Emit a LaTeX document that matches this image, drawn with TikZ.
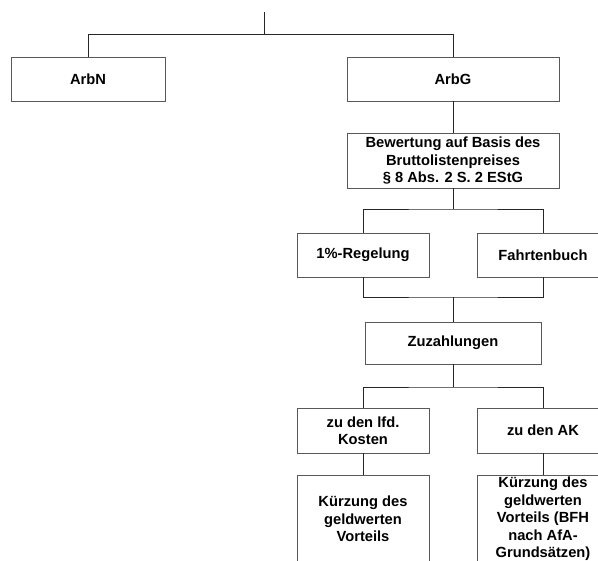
\documentclass[tikz,border=0pt]{standalone}
\usepackage{fontspec}
\setmainfont{Liberation Sans}
\begin{document}
\begin{tikzpicture}[x=1pt,y=-1pt,
  box/.style={draw=black!65,line width=0.9pt,fill=white,inner sep=0pt,align=center,
    font=\fontsize{14.7}{17.5}\selectfont\bfseries},
  conn/.style={draw=black!85,line width=0.9pt}]
\useasboundingbox (0,0) rectangle (598,561);
\clip (0,0) rectangle (598,561);
% connectors
\coordinate (root) at (264,12);
\coordinate (j0) at (264,34);
\coordinate (j1) at (453,209);
\coordinate (j2) at (453,297);
\coordinate (j3) at (453,387);
% boxes
\node[box,minimum width=154,minimum height=44] (arbn) at (88,79) {ArbN};
\node[box,minimum width=212,minimum height=44] (arbg) at (453,79) {ArbG};
\node[box,minimum width=212,minimum height=55] (bew) at (453,160.5) {Bewertung auf Basis des\\Bruttolistenpreises\\§ 8 Abs. 2 S. 2 EStG};
\node[box,minimum width=132,minimum height=44] (reg) at (363,255) {1\%-Regelung};
\node[box,minimum width=132,minimum height=44] (fahr) at (543,255) {Fahrtenbuch};
\node[box,minimum width=176,minimum height=42] (zuz) at (453,343) {Zuzahlungen};
\node[box,minimum width=132,minimum height=45] (lfd) at (363,430.5) {zu den lfd.\\Kosten};
\node[box,minimum width=132,minimum height=45] (ak) at (543,430.5) {zu den AK};
\node[box,minimum width=132,minimum height=88] (k1) at (363,519) {Kürzung des\\geldwerten\\Vorteils};
\node[box,minimum width=132,minimum height=88] (k2) at (543,519) {Kürzung des\\geldwerten\\Vorteils (BFH\\nach AfA-\\Grundsätzen)};
% lines
\draw[conn] (root) -- (j0);
\draw[conn] (arbn.north) -- (arbn.north |- j0) -- (arbg.north |- j0) -- (arbg.north);
\draw[conn] (arbg.south) -- (bew.north);
\draw[conn] (bew.south) -- (j1);
\draw[conn] (reg.north) |- (j1) -| (fahr.north);
\draw[conn] (reg.south) |- (j2) -| (fahr.south);
\draw[conn] (j2) -- (zuz.north);
\draw[conn] (zuz.south) -- (j3);
\draw[conn] (lfd.north) |- (j3) -| (ak.north);
\draw[conn] (lfd.south) -- (k1.north);
\draw[conn] (ak.south) -- (k2.north);
\end{tikzpicture}
\end{document}
